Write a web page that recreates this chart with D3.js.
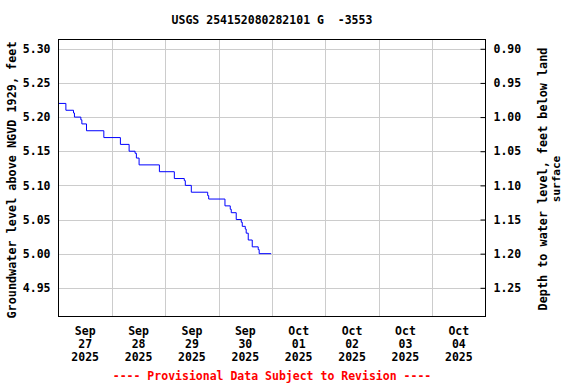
<!DOCTYPE html>
<html>
<head>
<meta charset="utf-8">
<script src="https://cdn.jsdelivr.net/npm/d3@7"></script>
<style>
  html, body { margin: 0; padding: 0; background: #fff; }
  svg { display: block; }
  text { font-family: "DejaVu Sans Mono", "Liberation Mono", monospace; font-weight: bold; }
</style>
</head>
<body>
<svg id="chart" width="576" height="384"></svg>
<script>
// ---- Data ----
const titleText = "USGS 254152080282101 G  -3553";
const leftLabel = "Groundwater level above NGVD 1929, feet";
const rightLabel1 = "Depth to water level, feet below land";
const rightLabel2 = "surface";
const footerText = "---- Provisional Data Subject to Revision ----";
const landSurface = 6.20; // depth = landSurface - level

const times = [
  "2025-09-27T00:00", "2025-09-27T03:19", "2025-09-27T06:45", "2025-09-27T07:10",
  "2025-09-27T10:03", "2025-09-27T10:30", "2025-09-27T12:35", "2025-09-27T20:23",
  "2025-09-28T03:50", "2025-09-28T07:45", "2025-09-28T10:26", "2025-09-28T11:01",
  "2025-09-28T12:14", "2025-09-28T21:22", "2025-09-29T04:05", "2025-09-29T08:34",
  "2025-09-29T09:01", "2025-09-29T11:43", "2025-09-29T19:05", "2025-09-29T19:32",
  "2025-09-30T02:51", "2025-09-30T05:14", "2025-09-30T05:41", "2025-09-30T07:55",
  "2025-09-30T10:11", "2025-09-30T10:38", "2025-09-30T11:59", "2025-09-30T12:24",
  "2025-09-30T13:19", "2025-09-30T15:07", "2025-09-30T17:48", "2025-09-30T18:14",
  "2025-09-30T23:38"
];
const levels = [
  5.220, 5.210, 5.206, 5.200,
  5.196, 5.190, 5.180, 5.170,
  5.160, 5.150, 5.147, 5.140,
  5.130, 5.120, 5.110, 5.107,
  5.100, 5.090, 5.085, 5.080,
  5.070, 5.065, 5.060, 5.050,
  5.046, 5.040, 5.036, 5.030,
  5.020, 5.010, 5.006, 5.000,
  5.000
];

const leftTicks = [4.95, 5.00, 5.05, 5.10, 5.15, 5.20, 5.25, 5.30];
const rightTicks = [0.90, 0.95, 1.00, 1.05, 1.10, 1.15, 1.20, 1.25];
const dayTicks = ["2025-09-27", "2025-09-28", "2025-09-29", "2025-09-30",
                  "2025-10-01", "2025-10-02", "2025-10-03", "2025-10-04"];
const xStart = "2025-09-27T00:00";
const xEnd = "2025-10-05T00:00";
const yMin = 4.908, yMax = 5.3136;

// ---- Layout ----
const svg = d3.select("#chart");
const L = 58.5, R = 485.5, T = 39.5, B = 316.5;
const parse = d3.timeParse("%Y-%m-%dT%H:%M");
const parseDay = d3.timeParse("%Y-%m-%d");

const x = d3.scaleTime().domain([parse(xStart), parse(xEnd)]).range([L, R]);
const y = d3.scaleLinear().domain([yMin, yMax]).range([B, T]);
const y2 = d3.scaleLinear().domain([landSurface - yMin, landSurface - yMax]).range([B, T]);

const data = times.map((t, i) => ({ t: parse(t), v: levels[i] }));

// Grid lines
const grid = svg.append("g").attr("stroke", "#cccccc").attr("stroke-width", 1);
leftTicks.forEach(v => {
  const yy = Math.round(y(v)) + 0.5;
  grid.append("line").attr("x1", L).attr("x2", R).attr("y1", yy).attr("y2", yy);
});
d3.range(1, 8).forEach(i => {
  const d = d3.timeDay.offset(parse(xStart), i);
  const xx = Math.round(x(d)) + 0.5;
  grid.append("line").attr("x1", xx).attr("x2", xx).attr("y1", T).attr("y2", B);
});

// Data line
const line = d3.line().x(d => x(d.t)).y(d => y(d.v)).curve(d3.curveStepAfter);
svg.append("path").datum(data)
  .attr("d", line)
  .attr("fill", "none")
  .attr("stroke", "#0000ff")
  .attr("stroke-width", 1);

// Frame
svg.append("rect").attr("x", L).attr("y", T).attr("width", R - L).attr("height", B - T)
  .attr("fill", "none").attr("stroke", "#000").attr("stroke-width", 1);

// Left axis (labels only)
const leftAxis = d3.axisLeft(y).tickValues(leftTicks).tickFormat(d3.format(".2f")).tickSize(0).tickPadding(8);
const gl = svg.append("g").attr("transform", `translate(${L},0)`).call(leftAxis);
gl.select(".domain").remove();
gl.selectAll("text").attr("font-size", 11.5).attr("font-family", "DejaVu Sans Mono").attr("font-weight", "bold").attr("fill", "#000");

// Right axis with inward ticks
const rightAxis = d3.axisRight(y2).tickValues(rightTicks).tickFormat(d3.format(".2f")).tickSizeInner(-5).tickSizeOuter(0).tickPadding(8);
const gr = svg.append("g").attr("transform", `translate(${R},0)`).call(rightAxis);
gr.select(".domain").remove();
gr.selectAll("line").attr("stroke", "#000");
gr.selectAll("text").attr("font-size", 11.5).attr("font-family", "DejaVu Sans Mono").attr("font-weight", "bold").attr("fill", "#000");

// Bottom axis labels (3 lines, at noon)
const fmtMon = d3.timeFormat("%b"), fmtDay = d3.timeFormat("%d"), fmtYr = d3.timeFormat("%Y");
dayTicks.forEach(s => {
  const d = parseDay(s);
  const xx = x(d3.timeHour.offset(d, 12));
  const t = svg.append("text").attr("x", xx).attr("text-anchor", "middle")
    .attr("font-size", 11.5).attr("fill", "#000");
  t.append("tspan").attr("x", xx).attr("y", 334.5).text(fmtMon(d));
  t.append("tspan").attr("x", xx).attr("y", 347.5).text(fmtDay(d));
  t.append("tspan").attr("x", xx).attr("y", 360.5).text(fmtYr(d));
});

// Title
svg.append("text").attr("x", 272).attr("y", 24).attr("text-anchor", "middle")
  .attr("font-size", 11.5).attr("fill", "#000").attr("xml:space", "preserve")
  .style("white-space", "pre").text(titleText);

// Left axis title
svg.append("text").attr("transform", `translate(16,180) rotate(-90)`)
  .attr("text-anchor", "middle").attr("font-size", 11.8).attr("fill", "#000").text(leftLabel);

// Right axis title
svg.append("text").attr("transform", `translate(547,179) rotate(-90)`)
  .attr("text-anchor", "middle").attr("font-size", 11.8).attr("fill", "#000").text(rightLabel1);
svg.append("text").attr("transform", `translate(560,179) rotate(-90)`)
  .attr("text-anchor", "middle").attr("font-size", 11).attr("font-weight", "normal").attr("fill", "#000").text(rightLabel2);

// Footer
svg.append("text").attr("x", 272).attr("y", 380).attr("text-anchor", "middle")
  .attr("font-size", 11.5).attr("fill", "#ff0000").style("white-space", "pre").text(footerText);
</script>
</body>
</html>
